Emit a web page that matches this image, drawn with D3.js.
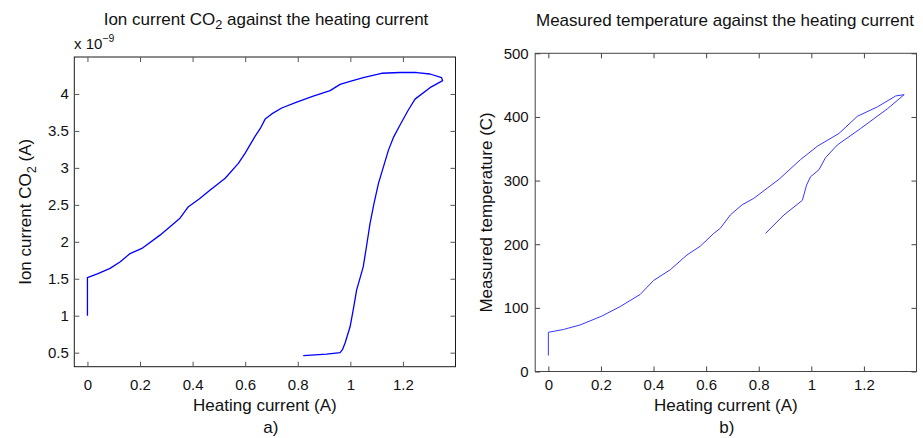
<!DOCTYPE html>
<html>
<head>
<meta charset="utf-8">
<script src="https://cdn.jsdelivr.net/npm/d3@7/dist/d3.min.js"></script>
<style>
  html, body { margin: 0; padding: 0; background: #fff; }
  svg { display: block; font-family: "Liberation Sans", Arial, Helvetica, sans-serif; }
</style>
</head>
<body>
<svg id="chart" width="923" height="438"></svg>
<script>
// ---------- data ----------
const xTicks = [0, 0.2, 0.4, 0.6, 0.8, 1, 1.2];
const xTickLabels = ["0", "0.2", "0.4", "0.6", "0.8", "1", "1.2"];
const ionTicks = [0.5, 1, 1.5, 2, 2.5, 3, 3.5, 4];
const ionTickLabels = ["0.5", "1", "1.5", "2", "2.5", "3", "3.5", "4"];
const tempTicks = [0, 100, 200, 300, 400, 500];
const tempTickLabels = ["0", "100", "200", "300", "400", "500"];

// Ion current CO2 (x 1e-9 A) vs heating current (A)
const ionCurrentX = [0, 0, 0.04, 0.086, 0.125, 0.162, 0.207, 0.276, 0.352, 0.384, 0.425, 0.467, 0.524, 0.574, 0.600, 0.638, 0.657, 0.676, 0.701, 0.739, 0.796, 0.859, 0.923, 0.961, 0.999, 1.049, 1.119, 1.189, 1.252, 1.303, 1.347, 1.351, 1.303, 1.246, 1.22, 1.189, 1.165, 1.145, 1.107, 1.09, 1.075, 1.062, 1.049, 1.024, 1.012, 0.999, 0.980, 0.970, 0.961, 0.910, 0.821];
const ionCurrentY = [1.0, 1.514, 1.57, 1.64, 1.73, 1.84, 1.91, 2.09, 2.32, 2.475, 2.58, 2.70, 2.86, 3.06, 3.20, 3.43, 3.53, 3.66, 3.73, 3.81, 3.89, 3.97, 4.045, 4.13, 4.17, 4.22, 4.28, 4.29, 4.29, 4.27, 4.22, 4.18, 4.085, 3.93, 3.78, 3.58, 3.42, 3.24, 2.79, 2.52, 2.25, 1.95, 1.66, 1.35, 1.1, 0.85, 0.63, 0.54, 0.50, 0.48, 0.46];

// Measured temperature (C) vs heating current (A)
const tempX = [0, 0, 0.057, 0.120, 0.203, 0.273, 0.349, 0.400, 0.464, 0.527, 0.578, 0.629, 0.654, 0.692, 0.737, 0.781, 0.877, 0.959, 1.023, 1.105, 1.175, 1.252, 1.321, 1.353, 1.290, 1.188, 1.099, 1.054, 1.029, 0.997, 0.982, 0.966, 0.896, 0.826];
const tempY = [25, 61.6, 66, 73, 87, 102, 121, 143, 160, 183, 197, 217, 225, 246, 262, 272, 302, 333, 354, 374, 401, 416, 433, 435, 413, 382, 356, 336, 317, 306, 293, 269, 246, 217];

const xDomain = [-0.05, 1.4];
const ionDomain = [0.31, 4.5];
const tempDomain = [0, 500];

// ---------- drawing ----------
const svg = d3.select("#chart");
const FONT_TICK = 15, FONT_LABEL = 17, FONT_TITLE = 17;

function panel(cfg) {
  const g = svg.append("g");
  const x = d3.scaleLinear().domain(xDomain).range([cfg.left, cfg.right]);
  const y = d3.scaleLinear().domain(cfg.yDomain).range([cfg.bottom, cfg.top]);
  const TL = 5;

  g.append("rect")
    .attr("x", cfg.left).attr("y", cfg.top)
    .attr("width", cfg.right - cfg.left).attr("height", cfg.bottom - cfg.top)
    .attr("fill", "none").attr("stroke", cfg.boxColor).attr("stroke-width", 1);

  const styleAxis = (sel, color) => {
    sel.select(".domain").remove();
    sel.selectAll(".tick line").attr("stroke", color);
    sel.selectAll(".tick text").attr("fill", "#111").attr("font-size", FONT_TICK)
      .attr("font-family", "Liberation Sans, Arial, sans-serif");
  };

  g.append("g").attr("transform", `translate(0,${cfg.bottom})`)
    .call(d3.axisBottom(x).tickValues(xTicks).tickFormat((d, i) => xTickLabels[i])
      .tickSize(-TL).tickPadding(cfg.xPad))
    .call(s => styleAxis(s, cfg.tickColor));
  g.append("g").attr("transform", `translate(0,${cfg.top})`)
    .call(d3.axisTop(x).tickValues(xTicks).tickFormat("").tickSize(-TL))
    .call(s => styleAxis(s, cfg.tickColor));
  g.append("g").attr("transform", `translate(${cfg.left},0)`)
    .call(d3.axisLeft(y).tickValues(cfg.yTicks).tickFormat((d, i) => cfg.yTickLabels[i])
      .tickSize(-TL).tickPadding(cfg.yPad))
    .call(s => styleAxis(s, cfg.tickColor));
  g.append("g").attr("transform", `translate(${cfg.right},0)`)
    .call(d3.axisRight(y).tickValues(cfg.yTicks).tickFormat("").tickSize(-TL))
    .call(s => styleAxis(s, cfg.tickColor));

  const pts = cfg.xs.map((v, i) => [v, cfg.ys[i]]);
  g.append("path")
    .datum(pts)
    .attr("fill", "none")
    .attr("stroke", cfg.lineColor)
    .attr("stroke-width", cfg.lineWidth)
    .attr("stroke-linejoin", "round")
    .attr("d", d3.line().x(d => x(d[0])).y(d => y(d[1])));

  const cx = (cfg.left + cfg.right) / 2;
  g.append("text").attr("x", cx).attr("y", 411).attr("text-anchor", "middle")
    .attr("font-size", FONT_LABEL).attr("fill", "#111").text("Heating current (A)");
  g.append("text").attr("x", cx + cfg.letterDx).attr("y", 433).attr("text-anchor", "middle")
    .attr("font-size", FONT_LABEL).attr("fill", "#111").text(cfg.letter);
  return { g, x, y, cx };
}

const L = panel({
  left: 74.3, right: 455.5, top: 57, bottom: 366.7,
  yDomain: ionDomain, yTicks: ionTicks, yTickLabels: ionTickLabels,
  xs: ionCurrentX, ys: ionCurrentY,
  lineColor: "#0000ff", lineWidth: 1.3,
  boxColor: "#1a1a1a", tickColor: "#555",
  xPad: 12.5, yPad: 5.5, letter: "a)", letterDx: 6
});
const R = panel({
  left: 535.2, right: 916.5, top: 53.3, bottom: 371.5,
  yDomain: tempDomain, yTicks: tempTicks, yTickLabels: tempTickLabels,
  xs: tempX, ys: tempY,
  lineColor: "#3636ff", lineWidth: 1,
  boxColor: "#444", tickColor: "#444",
  xPad: 8, yPad: 6.5, letter: "b)", letterDx: 1
});

const t1 = svg.append("text").attr("x", 266).attr("y", 25).attr("text-anchor", "middle")
  .attr("font-size", FONT_TITLE).attr("fill", "#111");
t1.append("tspan").text("Ion current CO");
t1.append("tspan").attr("font-size", FONT_TITLE * 0.75).attr("dy", 3.5).text("2");
t1.append("tspan").attr("dy", -3.5).text(" against the heating current");

svg.append("text").attr("x", 725).attr("y", 26).attr("text-anchor", "middle")
  .attr("font-size", FONT_TITLE).attr("fill", "#111")
  .text("Measured temperature against the heating current");

const ex = svg.append("text").attr("x", 74).attr("y", 49)
  .attr("font-size", FONT_TICK).attr("fill", "#111");
ex.append("tspan").text("x 10");
ex.append("tspan").attr("font-size", FONT_TICK * 0.7).attr("dy", -7.5).text("\u22129");

const yl1 = svg.append("text").attr("transform", `translate(31,${(57 + 366.7) / 2}) rotate(-90)`)
  .attr("text-anchor", "middle").attr("font-size", FONT_LABEL).attr("fill", "#111");
yl1.append("tspan").text("Ion current CO");
yl1.append("tspan").attr("font-size", FONT_LABEL * 0.75).attr("dy", 5).text("2");
yl1.append("tspan").attr("dy", -5).text(" (A)");

svg.append("text").attr("transform", `translate(492,${(53.3 + 371.5) / 2}) rotate(-90)`)
  .attr("text-anchor", "middle").attr("font-size", FONT_LABEL).attr("fill", "#111")
  .text("Measured temperature (C)");
</script>
</body>
</html>
